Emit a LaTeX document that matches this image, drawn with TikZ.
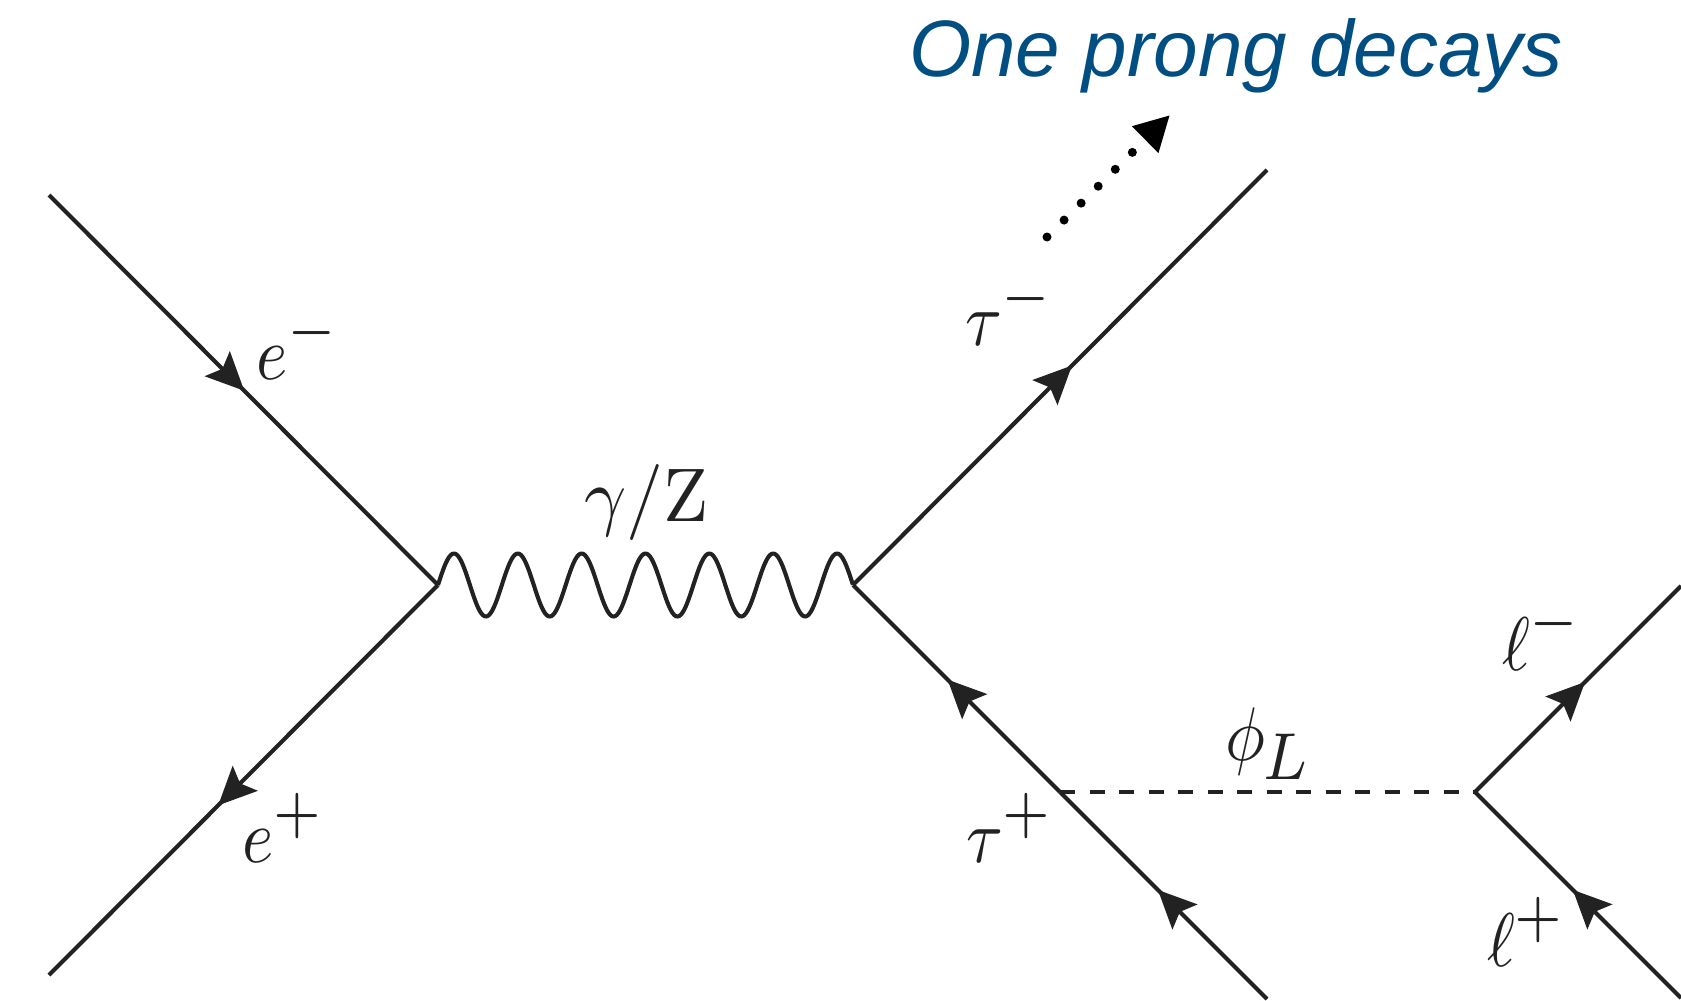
\documentclass[tikz,border=0pt]{standalone}
\usepackage[no-math]{fontspec}
\newfontfamily\titlefont{Liberation Sans}
\usetikzlibrary{arrows.meta,decorations.markings}
\definecolor{ink}{HTML}{222222}
\definecolor{titleblue}{HTML}{004E82}
\newcommand{\supsign}[1]{\raisebox{0.35pt}{\scalebox{1.16}{$\scriptstyle #1$}}}
\newcommand{\subL}{\kern-0.4pt\raisebox{0.7pt}{\scalebox{1.25}{$\scriptstyle L$}}}
\tikzset{
  x=1pt,y=-1pt,
  fermion/.style={ink,line width=4.1pt,decoration={markings,mark=at position #1 with {\arrow{Stealth[length=38pt,width=35pt,inset=7pt]}}},postaction={decorate}},
  boson/.style={ink,line width=4.1pt,line join=round},
  scalarline/.style={ink,line width=3.8pt,dash pattern=on 15pt off 14.5pt},
  mathlabel/.style={ink,anchor=base west,inner sep=0pt,outer sep=0pt,xscale=6.7,yscale=7.6},
  dotsline/.style={black,line width=9pt,line cap=round,dash pattern=on 0pt off 24.04pt,-{Triangle[length=35pt,width=35pt,line cap=butt]}},
  titletext/.style={titleblue,anchor=base west,inner sep=0pt,font=\fontsize{80}{90}\titlefont\itshape}
}
\begin{document}
\begin{tikzpicture}
\useasboundingbox (0,0) rectangle (1681,1001);
\fill[white] (0,0) rectangle (1681,1001);
\coordinate (emin) at (49,195);
\coordinate (epl) at (49,975);
\coordinate (v1) at (438,585);
\coordinate (v2) at (853,585);
\coordinate (taumin) at (1267,170);
\coordinate (taupl) at (1267,999);
\coordinate (v3) at (1060,792);
\coordinate (v4) at (1475,792);
\coordinate (lmin) at (1681,586);
\coordinate (lpl) at (1681,998);
\coordinate (dotstart) at (1047,237);
\coordinate (dottip) at (1170,115);

\draw[fermion=0.502] (emin) -- (v1);
\draw[fermion=0.565] (v1) -- (epl);
\draw[boson] plot[domain=0:6.5,samples=261] ([shift={(63.846*\x,-31.5*sin(360*\x))}]v1);
\draw[fermion=0.529] (v2) -- (taumin);
\draw[fermion=0.527] (taupl) -- (v3);
\draw[fermion=0.543] (v3) -- (v2);
\draw[scalarline] (v3) -- (v4);
\draw[fermion=0.534] (v4) -- (lmin);
\draw[fermion=0.525] (lpl) -- (v4);
\draw[dotsline] (dotstart) -- (dottip);

\node[mathlabel] (lbe1) at (256,379) {$e^{\supsign{-}}$};
\node[mathlabel] (lbe2) at (242,862) {$e^{\supsign{+}}$};
\node[mathlabel,xscale=1.1] (lbg) at (584,521) {$\gamma/\mathrm{Z}$};
\node[mathlabel] (lbt1) at (965,345) {$\tau^{\supsign{-}}$};
\node[mathlabel] (lbt2) at (966,862) {$\tau^{\supsign{+}}$};
\node[mathlabel] (lbp) at (1225,760) {$\phi_{\subL}$};
\node[mathlabel] (lbl1) at (1502,670) {$\ell^{\supsign{-}}$};
\node[mathlabel] (lbl2) at (1487,966) {$\ell^{\supsign{+}}$};
\node[titletext] (title) at (909,76) {One prong decays};
\end{tikzpicture}
\end{document}
